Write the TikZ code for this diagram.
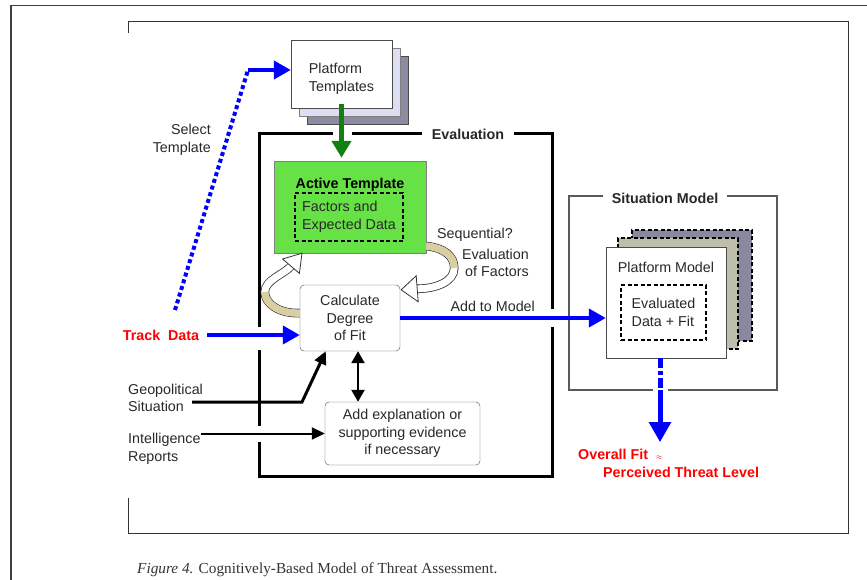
\documentclass[tikz,border=0pt]{standalone}
\usepackage{fontspec}
\setmainfont{Liberation Sans}
\newfontfamily\captionserif{Liberation Serif}
\usetikzlibrary{arrows.meta,calc,positioning,shadows}

\newcommand{\diagfont}{\fontsize{14.3pt}{17.5pt}\selectfont}
\definecolor{activegreen}{RGB}{102,226,70}
\definecolor{arrowgreen}{RGB}{16,128,16}
\definecolor{ribbontan}{RGB}{216,206,160}
\definecolor{tmplgray}{RGB}{140,140,160}
\definecolor{tmpllav}{RGB}{222,222,242}
\definecolor{modeltan}{RGB}{190,190,172}
\definecolor{modelgray}{RGB}{136,136,158}
\definecolor{textgray}{RGB}{40,40,40}

\begin{document}
\begin{tikzpicture}[x=1pt, y=-1pt]
    \tikzset{block/.style= {draw=black!70, rectangle
    , align=center
    , font=\diagfont
    , text=textgray
      },
    rblock/.style={block, rounded corners=4pt, fill=white},
    lbl/.style={font=\diagfont, text=textgray, inner sep=0pt},
    redlbl/.style={lbl, text=red, font=\diagfont\bfseries},
    framelbl/.style={lbl, font=\diagfont\bfseries, fill=white, inner xsep=10pt, inner ysep=3pt},
    dashbox/.style={block, draw=black, line width=1.4pt, dash pattern=on 4pt off 2.5pt, align=left},
    evalframe/.style={draw=black, line width=3pt},
    sitframe/.style={draw=black!65, line width=1.5pt},
    bluearrow/.style={draw=blue, line width=4pt, -{Triangle[length=17pt,width=18pt]}},
    bluedots/.style={draw=blue, line width=4pt, dash pattern=on 4pt off 3pt},
    bluedashdot/.style={draw=blue, line width=5pt, dash pattern=on 10pt off 3pt on 4pt off 3pt},
    greenarrow/.style={draw=arrowgreen, line width=5pt, -{Triangle[length=17pt,width=19pt]}},
    blackarrow/.style={draw=black, line width=2.5pt, -{Triangle[length=13pt,width=12pt]}},
    ribbon/.style={draw=black!80, line width=0.8pt, double=white, double distance=7pt},
    ribbontail/.style={draw=ribbontan, line width=7pt},
    ribbonhead/.style={draw=black!80, line width=0.8pt, fill=white}
    }

\useasboundingbox (0,0) rectangle (867,580);

\draw[black!75, line width=1.6pt] (11,580) -- (11,5.5) -- (867,5.5);
\draw[black!80, line width=1pt] (128,33) -- (128,22) -- (848,22) -- (848,533) -- (128,533) -- (128,498);

% frames
\draw[evalframe] (333,134) -- (259,134) -- (259,327);
\draw[evalframe] (259,350) -- (259,426);
\draw[evalframe] (259,442) -- (259,476) -- (552,476) -- (552,327);
\draw[evalframe] (552,309) -- (552,134) -- (352,134);
\node [framelbl] (evallbl) at (468,134) {Evaluation};

\draw[sitframe] (653,390) -- (569,390) -- (569,196) -- (777,196) -- (777,390) -- (668,390);
\node [framelbl, inner xsep=9pt] (sitlbl) at (665,198) {Situation Model};

% boxes
\node [block, fill=white, minimum width=101pt, minimum height=68pt,
       copy shadow={shadow xshift=16pt, shadow yshift=-16pt, fill=tmplgray, draw=black!70},
       copy shadow={shadow xshift=8pt, shadow yshift=-8pt, fill=tmpllav, draw=black!50}]
       (templates) at (341.5,74) {};
\node [lbl, align=left] (templateslbl) at ([yshift=-5pt]templates.center) {Platform\\Templates};

\node [block, draw=black!50, fill=activegreen, minimum width=152pt, minimum height=92pt] (active) at (350,207) {};
\node [lbl, font=\diagfont\bfseries, text=black, below=17pt of active.north] (activelbl) {Active Template};
\node [dashbox, minimum width=108pt, minimum height=48pt] (factors) at (349,217) {Factors and\\Expected Data};

\node [rblock, minimum width=100pt, minimum height=66pt] (degree) at (350,318) {Calculate\\Degree\\of Fit};
\node [rblock, minimum width=155pt, minimum height=63pt] (explain) at (402.5,433.5) {Add explanation or\\supporting evidence\\if necessary};

\node [block, fill=white, minimum width=120pt, minimum height=111pt,
       copy shadow={shadow xshift=26pt, shadow yshift=17pt, fill=modelgray, draw=black, line width=1.2pt, dash pattern=on 4pt off 2.5pt},
       copy shadow={shadow xshift=12pt, shadow yshift=9pt, fill=modeltan, draw=black, line width=1.2pt, dash pattern=on 4pt off 2.5pt}]
       (pmodel) at (666,302.5) {};
\node [lbl, below=15pt of pmodel.north] (pmodellbl) {Platform Model};
\node [dashbox, minimum width=85pt, minimum height=55pt] (evaldata) at (663.5,312.5) {Evaluated\\Data + Fit};

% labels
\node [lbl, align=right, anchor=east] (sellbl) at (211,140) {Select\\Template};
\node [redlbl] (track) at (161,335) {Track\ \ Data};
\node [lbl, align=left, anchor=west] (geo) at (128,398) {Geopolitical\\Situation};
\node [lbl, align=left, anchor=west] (intel) at (128,449) {Intelligence\\Reports};
\node [lbl, anchor=west] (seqlbl) at (437,235) {Sequential?};
\node [lbl, align=right, anchor=east] (factlbl) at (529,263) {Evaluation\\of Factors};
\node [redlbl, anchor=west] (overall) at (578,454) {Overall Fit\hspace{8pt}{\scriptsize$\approx$}};
\node [redlbl, anchor=north west, below right=7pt and 25pt of overall.south west] (threat) {Perceived Threat Level};
\node [anchor=base west, inner sep=0pt, font=\captionserif\fontsize{15.3pt}{17pt}\selectfont, text=black!80] (caption) at (137,573)
      {\textit{Figure 4.} Cognitively-Based Model of Threat Assessment.};

% connectors
\coordinate (selfoot) at (175,310);
\coordinate (selbend) at (248,70);
\draw[bluedots] (selfoot) -- (selbend);
\draw[bluearrow] (selbend) -- (selbend -| templates.west);

\draw[greenarrow, shorten >=3pt] ([yshift=4pt]templates.south) -- (templates.south |- active.north);

\coordinate (trackout) at ([xshift=8pt]track.east);
\draw[bluearrow] (trackout) -- (trackout -| degree.west);

\coordinate (geofoot) at (192,402);
\draw[blackarrow, line width=3pt] (geofoot) -- ++(110,0) -- ([xshift=26pt]degree.south west);
\draw[blackarrow, line width=2pt] (intel.east |- explain.west) -- (explain.west);

\coordinate (dtop) at ([xshift=8pt]degree.south);
\draw[blackarrow, {Triangle[length=12pt,width=13pt]}-{Triangle[length=12pt,width=13pt]}] (dtop) -- (dtop |- explain.north);

\draw[bluearrow] (degree.east) -- node[lbl, above=4pt, pos=0.45] (addlbl) {Add to Model} (degree.east -| pmodel.west);

\coordinate (dropstart) at ([xshift=-6pt]pmodel.south);
\coordinate (dropmid) at ([yshift=-32pt]dropstart);
\coordinate (dropend) at ([yshift=-84pt]dropstart);
\draw[bluedashdot] (dropstart) -- (dropmid);
\draw[bluearrow, line width=5pt, -{Triangle[length=20pt,width=21pt]}] (dropmid) -- (dropend);

% curved arrows
\coordinate (rtail) at ([yshift=-39pt]active.east);
\coordinate (rmid) at ($(rtail)+(28,22)$);
\coordinate (rtip) at ([xshift=1pt,yshift=-5pt]degree.north east);
\coordinate (rbase) at ($(rtip)+(16,-1)$);
\draw[ribbon] (rtail) .. controls +(18,2) and +(0,-12) .. (rmid) .. controls +(0,14) and +(18,0) .. (rbase);
\draw[ribbontail] (rtail) .. controls +(18,2) and +(0,-12) .. (rmid);
\filldraw[ribbonhead] ($(rbase)+(-1,-13)$) -- (rtip) -- ($(rbase)+(1,13)$) -- cycle;

\coordinate (ltail) at ([yshift=5pt]degree.west);
\coordinate (lmid) at ($(ltail)+(-35,-21)$);
\coordinate (ltip) at ([xshift=-48pt]active.south);
\coordinate (lbase) at ($(ltip)+(-11,13)$);
\draw[ribbon] (ltail) .. controls +(-20,1) and +(0,12) .. (lmid) .. controls +(0,-12) and +(-7,8) .. (lbase);
\draw[ribbontail] (ltail) .. controls +(-20,1) and +(0,12) .. (lmid);
\filldraw[ribbonhead] ($(lbase)+(-8.4,-7.2)$) -- (ltip) -- ($(lbase)+(8.4,7.2)$) -- cycle;
\end{tikzpicture}
\end{document}
